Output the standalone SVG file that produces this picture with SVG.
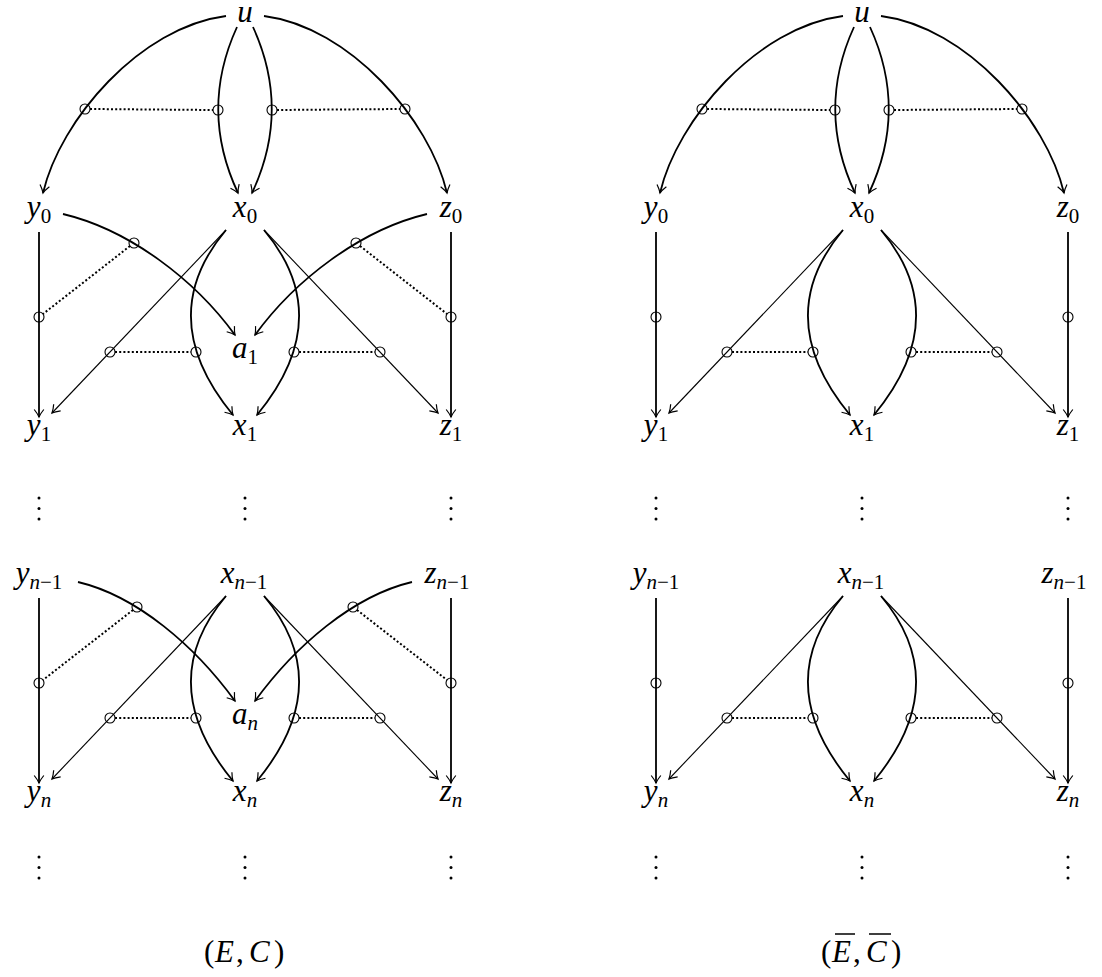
<svg xmlns="http://www.w3.org/2000/svg" width="1102" height="977" viewBox="0 0 1102 977">
<style>
.k{fill:none;stroke:#000;stroke-width:1.8}
.t{fill:none;stroke:#000;stroke-width:1.1}
.d{fill:none;stroke:#000;stroke-width:2;stroke-dasharray:2 2.2}
.c{fill:none;stroke:#000;stroke-width:1.1}
.a{marker-end:url(#arr)}
.m{font-size:31px;font-style:italic;text-anchor:middle;fill:#000}
.s{font-size:21px;font-style:normal}
.cap{font-size:31px;fill:#000}
.i{font-style:italic}
.dot{fill:#000}
</style>
<defs>
<marker id="arr" viewBox="-10 -7 12 14" refX="0" refY="0" markerWidth="12" markerHeight="14" markerUnits="userSpaceOnUse" orient="auto" overflow="visible">
<path d="M-7.5,-4.8 Q-3,-1.2 0,0 Q-3,1.2 -7.5,4.8" fill="none" stroke="#000" stroke-width="1.2"/>
</marker>
<g id="top">
<path class="k a" d="M226 16 C140 27 60 120 43 193"/>
<path class="k a" d="M237 27 Q199 110 238 193"/>
<path class="k a" d="M253 27 Q291 110 252 193"/>
<path class="k a" d="M264 16 C350 27 430 120 447 193"/>
<path class="d" d="M90 109 L213 110"/>
<path class="d" d="M277 110 L400 109"/>
<circle class="c" cx="85" cy="109" r="5"/>
<circle class="c" cx="218" cy="110" r="5"/>
<circle class="c" cx="272" cy="110" r="5"/>
<circle class="c" cx="405" cy="109" r="5"/>
</g>
<g id="xfan">
<path class="t a" d="M226 230 L52 413"/>
<path class="k a" d="M226 230 Q152.5 317.5 233 415"/>
<path class="k a" d="M264 230 Q337.5 317.5 257 415"/>
<path class="t a" d="M264 230 L438 413"/>
<path class="d" d="M115 352 L191 352"/>
<path class="d" d="M299 352 L375 352"/>
<circle class="c" cx="110" cy="352" r="5"/>
<circle class="c" cx="196" cy="352" r="5"/>
<circle class="c" cx="294" cy="352" r="5"/>
<circle class="c" cx="380" cy="352" r="5"/>
<path class="k a" d="M39 232 L39 417"/>
<path class="k a" d="M451 232 L451 417"/>
<circle class="c" cx="39" cy="317" r="5"/>
<circle class="c" cx="451" cy="317" r="5"/>
</g>
</defs>

<g id="connectors">
<use href="#top"/>
<use href="#xfan"/>
<use href="#xfan" transform="translate(0,366)"/>
<path class="k a" d="M63 214 C130 230 195 280 235 335"/>
<path class="k a" d="M427 214 C360 230 295 280 255 335"/>
<path class="d" d="M130 246 L43 314"/>
<path class="d" d="M360 246 L447 314"/>
<circle class="c" cx="134" cy="243" r="5"/>
<circle class="c" cx="356" cy="243" r="5"/>
<path class="k a" d="M78 582 C137 596 195 646 235 701"/>
<path class="k a" d="M412 582 C353 596 295 646 255 701"/>
<path class="d" d="M133 610 L43 680"/>
<path class="d" d="M357 610 L447 680"/>
<circle class="c" cx="137" cy="607" r="5"/>
<circle class="c" cx="353" cy="607" r="5"/>
<use href="#top" transform="translate(617,0)"/>
<use href="#xfan" transform="translate(617,0)"/>
<use href="#xfan" transform="translate(617,366)"/>
</g>

<g id="left-nodes" font-family="Liberation Serif, serif">
<g id="L-u"><text class="m" x="245" y="22">u</text></g>
<g id="L-y0"><text class="m" x="39" y="217">y<tspan class="s" dy="6">0</tspan></text></g>
<g id="L-x0"><text class="m" x="245" y="217">x<tspan class="s" dy="6">0</tspan></text></g>
<g id="L-z0"><text class="m" x="451" y="217">z<tspan class="s" dy="6">0</tspan></text></g>
<g id="L-a1"><text class="m" x="245" y="358">a<tspan class="s" dy="6">1</tspan></text></g>
<g id="L-y1"><text class="m" x="39" y="435">y<tspan class="s" dy="6">1</tspan></text></g>
<g id="L-x1"><text class="m" x="245" y="435">x<tspan class="s" dy="6">1</tspan></text></g>
<g id="L-z1"><text class="m" x="451" y="435">z<tspan class="s" dy="6">1</tspan></text></g>
<g id="L-yn1"><text class="m" x="39" y="583">y<tspan class="s" dy="6"><tspan class="i">n</tspan>−1</tspan></text></g>
<g id="L-xn1"><text class="m" x="244" y="583">x<tspan class="s" dy="6"><tspan class="i">n</tspan>−1</tspan></text></g>
<g id="L-zn1"><text class="m" x="447" y="583">z<tspan class="s" dy="6"><tspan class="i">n</tspan>−1</tspan></text></g>
<g id="L-an"><text class="m" x="245" y="724">a<tspan class="s i" dy="6">n</tspan></text></g>
<g id="L-yn"><text class="m" x="39" y="801">y<tspan class="s i" dy="6">n</tspan></text></g>
<g id="L-xn"><text class="m" x="245" y="801">x<tspan class="s i" dy="6">n</tspan></text></g>
<g id="L-zn"><text class="m" x="451" y="801">z<tspan class="s i" dy="6">n</tspan></text></g>
</g>

<g id="right-nodes" font-family="Liberation Serif, serif">
<g id="R-u"><text class="m" x="862" y="22">u</text></g>
<g id="R-y0"><text class="m" x="656" y="217">y<tspan class="s" dy="6">0</tspan></text></g>
<g id="R-x0"><text class="m" x="862" y="217">x<tspan class="s" dy="6">0</tspan></text></g>
<g id="R-z0"><text class="m" x="1068" y="217">z<tspan class="s" dy="6">0</tspan></text></g>
<g id="R-y1"><text class="m" x="656" y="435">y<tspan class="s" dy="6">1</tspan></text></g>
<g id="R-x1"><text class="m" x="862" y="435">x<tspan class="s" dy="6">1</tspan></text></g>
<g id="R-z1"><text class="m" x="1068" y="435">z<tspan class="s" dy="6">1</tspan></text></g>
<g id="R-yn1"><text class="m" x="656" y="583">y<tspan class="s" dy="6"><tspan class="i">n</tspan>−1</tspan></text></g>
<g id="R-xn1"><text class="m" x="861" y="583">x<tspan class="s" dy="6"><tspan class="i">n</tspan>−1</tspan></text></g>
<g id="R-zn1"><text class="m" x="1064" y="583">z<tspan class="s" dy="6"><tspan class="i">n</tspan>−1</tspan></text></g>
<g id="R-yn"><text class="m" x="656" y="801">y<tspan class="s i" dy="6">n</tspan></text></g>
<g id="R-xn"><text class="m" x="862" y="801">x<tspan class="s i" dy="6">n</tspan></text></g>
<g id="R-zn"><text class="m" x="1068" y="801">z<tspan class="s i" dy="6">n</tspan></text></g>
</g>

<g id="vdots">
<g id="vd"><circle class="dot" cx="39" cy="498" r="1.5"/><circle class="dot" cx="39" cy="508.5" r="1.5"/><circle class="dot" cx="39" cy="519" r="1.5"/></g>
<use href="#vd" transform="translate(206,0)"/>
<use href="#vd" transform="translate(412,0)"/>
<use href="#vd" transform="translate(0,359)"/>
<use href="#vd" transform="translate(206,359)"/>
<use href="#vd" transform="translate(412,359)"/>
<use href="#vd" transform="translate(617,0)"/>
<use href="#vd" transform="translate(823,0)"/>
<use href="#vd" transform="translate(1029,0)"/>
<use href="#vd" transform="translate(617,359)"/>
<use href="#vd" transform="translate(823,359)"/>
<use href="#vd" transform="translate(1029,359)"/>
</g>

<g id="captions" font-family="Liberation Serif, serif">
<text class="cap" y="962"><tspan x="204">(</tspan><tspan class="i" x="215">E</tspan><tspan x="236">,</tspan><tspan class="i" x="249">C</tspan><tspan x="274">)</tspan></text>
<text class="cap" y="962"><tspan x="821">(</tspan><tspan class="i" x="832">E</tspan><tspan x="853">,</tspan><tspan class="i" x="866">C</tspan><tspan x="891">)</tspan></text>
<path d="M835 934 L855 934 M869 934 L891 934" stroke="#000" stroke-width="1.6"/>
</g>
</svg>
